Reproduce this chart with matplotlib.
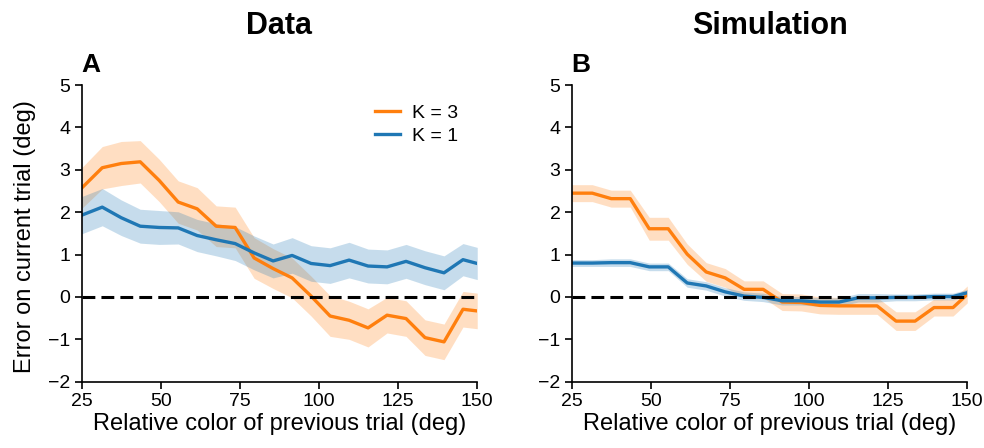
import matplotlib
matplotlib.use("Agg")
import matplotlib.pyplot as plt
import numpy as np

plt.rcParams['font.family'] = ['Liberation Sans', 'DejaVu Sans']

# x positions of the binned points (deg)
x = [25, 31.5, 37.5, 43.5, 49.5, 55.5, 61.5, 67.5, 73.5, 79.5, 85.5, 91.5,
     97.5, 103.5, 109.5, 115.5, 121.5, 127.5, 133.5, 139.5, 145.5, 150]

# Panel A: data
data_k3 = [2.57, 3.05, 3.15, 3.19, 2.75, 2.24, 2.08, 1.67, 1.64, 0.92, 0.67, 0.45,
           0.02, -0.45, -0.55, -0.73, -0.43, -0.51, -0.96, -1.06, -0.29, -0.33]
data_k3_err = [0.48, 0.5, 0.52, 0.5, 0.5, 0.5, 0.5, 0.48, 0.48, 0.48, 0.47, 0.47,
               0.47, 0.48, 0.45, 0.45, 0.42, 0.42, 0.42, 0.42, 0.42, 0.42]
data_k1 = [1.93, 2.12, 1.87, 1.67, 1.64, 1.63, 1.45, 1.35, 1.26, 1.04, 0.85, 0.98,
           0.79, 0.74, 0.87, 0.73, 0.71, 0.84, 0.69, 0.57, 0.88, 0.79]
data_k1_err = [0.44, 0.44, 0.42, 0.4, 0.4, 0.38, 0.38, 0.38, 0.4, 0.4, 0.4, 0.42,
               0.42, 0.42, 0.42, 0.4, 0.4, 0.4, 0.4, 0.4, 0.38, 0.38]

# Panel B: simulation
sim_k3 = [2.45, 2.45, 2.32, 2.32, 1.61, 1.61, 1.01, 0.59, 0.45, 0.18, 0.18, -0.12,
          -0.13, -0.2, -0.21, -0.21, -0.21, -0.57, -0.57, -0.25, -0.25, 0.06]
sim_k3_err = [0.2, 0.2, 0.2, 0.2, 0.27, 0.27, 0.24, 0.22, 0.22, 0.2, 0.2, 0.2,
              0.2, 0.2, 0.2, 0.2, 0.2, 0.22, 0.22, 0.2, 0.2, 0.2]
sim_k1 = [0.80, 0.80, 0.81, 0.81, 0.71, 0.71, 0.33, 0.26, 0.12, 0.02, -0.01, -0.09,
          -0.09, -0.12, -0.12, -0.02, -0.02, -0.01, -0.01, 0.01, 0.01, 0.10]
sim_k1_err = [0.08, 0.08, 0.09, 0.09, 0.09, 0.09, 0.1, 0.1, 0.1, 0.1, 0.1, 0.1,
              0.1, 0.1, 0.1, 0.1, 0.1, 0.08, 0.08, 0.08, 0.08, 0.08]

xticks = [25, 50, 75, 100, 125, 150]
yticks = [-2, -1, 0, 1, 2, 3, 4, 5]
titles = ["Data", "Simulation"]
letters = ["A", "B"]
ORANGE = "#ff7f0e"
BLUE = "#1f77b4"

fig = plt.figure(figsize=(9.84, 4.48), dpi=100)
axA = fig.add_axes([0.083, 0.148, 0.402, 0.662])
axB = fig.add_axes([0.581, 0.148, 0.402, 0.662])

panels = [(axA, data_k3, data_k3_err, data_k1, data_k1_err),
          (axB, sim_k3, sim_k3_err, sim_k1, sim_k1_err)]

xa = np.array(x)
for i, (ax, k3, k3e, k1, k1e) in enumerate(panels):
    k3 = np.array(k3); k3e = np.array(k3e)
    k1 = np.array(k1); k1e = np.array(k1e)
    ax.fill_between(xa, k3 - k3e, k3 + k3e, color=ORANGE, alpha=0.25, lw=0)
    ax.fill_between(xa, k1 - k1e, k1 + k1e, color=BLUE, alpha=0.25, lw=0)
    ax.plot(xa, k3, color=ORANGE, lw=2.4, label="K = 3")
    ax.plot(xa, k1, color=BLUE, lw=2.4, label="K = 1")
    ax.axhline(0, color="black", lw=2.2, ls=(0, (4.2, 2.0)), zorder=5)
    ax.set_xlim(25, 150)
    ax.set_ylim(-2, 5)
    ax.set_xticks(xticks)
    ax.set_yticks(yticks)
    ax.set_yticklabels([f"{t}".replace("-", "\u2212") for t in yticks])
    for s in ["top", "right"]:
        ax.spines[s].set_visible(False)
    for s in ["left", "bottom"]:
        ax.spines[s].set_linewidth(1.2)
    ax.tick_params(direction="out", length=5, width=1.2, labelsize=14, pad=3)
    ax.set_xlabel("Relative color of previous trial (deg)", fontsize=17, labelpad=2)
    ax.set_title(titles[i], fontsize=22, fontweight="bold", pad=37)
    ax.text(0.0, 1.044, letters[i], transform=ax.transAxes, fontsize=19,
            fontweight="bold", ha="left", va="baseline")

axA.set_ylabel("Error on current trial (deg)", fontsize=17)
axA.yaxis.set_label_coords(-0.116, 0.49)
axA.legend(loc="upper left", frameon=False, fontsize=14, handlelength=1.29,
           handletextpad=0.62, labelspacing=0.3, borderaxespad=0,
           bbox_to_anchor=(0.722, 0.962))

fig.savefig("out.png", dpi=100)
